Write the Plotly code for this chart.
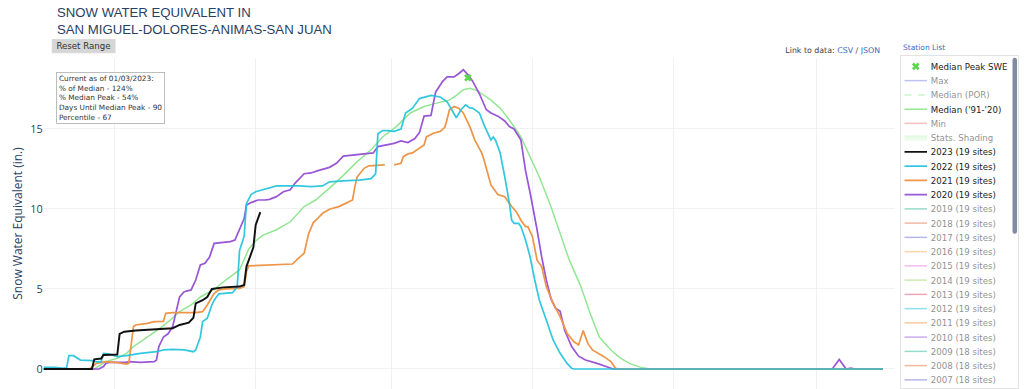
import pandas as pd
import plotly.graph_objects as go

# ---------------- data (day of water year from Oct 1, SWE in inches) ----------------
water_year_start = "2022-10-01"

days_2023 = [0, 21, 22, 25, 26, 32, 33, 35, 40, 45, 50, 56, 59, 63, 65, 66, 69, 71, 73, 78, 85, 87, 88, 89, 90, 91, 92, 93, 94]
swe_2023 = [0, 0, 0.6, 0.65, 0.88, 0.9, 2.2, 2.33, 2.4, 2.45, 2.5, 2.55, 2.75, 2.9, 3.2, 4.1, 4.3, 4.5, 5.0, 5.1, 5.15, 5.25, 6.4, 6.8, 7.1, 7.6, 9.0, 9.4, 9.8]

days_2022 = [0, 5, 8, 10, 11, 13, 16, 21, 23, 25, 26, 28, 32, 36, 42, 49, 52, 56, 61, 65, 66, 68, 69, 71, 73, 74, 76, 82, 84, 85, 86, 87, 88, 90, 92, 98, 101, 111, 116, 121, 124, 130, 137, 142, 144, 145, 147, 149, 152, 155, 157, 160, 163, 168, 172, 175, 177, 179, 181, 183, 185, 186, 189, 191, 194, 195, 196, 198, 200, 202, 203, 204, 206, 207, 209, 211, 213, 215, 218, 221, 224, 227, 229, 230, 364]
swe_2022 = [0.1, 0.1, 0.05, 0.05, 0.83, 0.83, 0.56, 0.52, 0.45, 0.45, 0.98, 0.95, 0.77, 0.83, 0.98, 1.08, 1.19, 1.23, 1.19, 1.08, 1.19, 2.0, 2.96, 3.17, 4.0, 4.3, 4.7, 4.77, 5.15, 7.4, 7.85, 8.3, 10.35, 10.9, 11.08, 11.3, 11.44, 11.44, 11.4, 11.44, 11.7, 11.75, 11.8, 11.9, 12.2, 14.7, 14.9, 14.9, 14.85, 15.0, 16.0, 16.3, 16.9, 17.1, 17.0, 16.7, 16.2, 15.7, 16.2, 16.5, 16.3, 16.3, 16.0, 15.25, 14.3, 14.5, 14.3, 13.5, 12.0, 10.35, 9.3, 9.1, 9.1, 8.9, 8.06, 7.0, 5.56, 4.3, 3.06, 1.8, 0.98, 0.35, 0.04, 0, 0]

days_2021 = [0, 20, 23, 27, 32, 36, 37, 39, 40, 45, 48, 52, 53, 56, 62, 66, 69, 71, 74, 76, 79, 85, 87, 88, 89, 96, 100, 108, 110, 113, 115, 117, 119, 121, 124, 128, 131, 134, 135, 136, 139, 141, 148, 149, 152, 155, 156, 158, 160, 162, 165, 166, 169, 172, 174, 175, 176, 178, 180, 182, 183, 185, 187, 190, 191, 194, 197, 200, 203, 205, 207, 209, 210, 212, 214, 216, 218, 221, 224, 227, 230, 231, 232, 234, 236, 238, 243, 246, 248, 250, 364]
swe_2021 = [0, 0, 0.35, 0.46, 0.4, 0.31, 0.35, 2.65, 2.75, 2.85, 2.96, 2.98, 3.48, 3.52, 3.52, 3.52, 3.58, 4.0, 4.73, 4.94, 5.0, 5.04, 5.15, 6.08, 6.44, 6.48, 6.5, 6.56, 6.85, 7.23, 8.48, 9.15, 9.42, 9.73, 9.98, 10.15, 10.35, 10.56, 11.4, 12.0, 12.54, 12.7, 12.75, None, 12.75, 12.85, 13.27, 13.44, 13.5, 13.7, 14.0, 14.5, 14.73, 14.85, 15.1, 15.6, 16.2, 16.4, 16.3, 16.0, 15.7, 15.1, 14.3, 13.5, 13.06, 11.5, 10.9, 10.77, 10.15, 9.83, 9.3, 8.9, 8.9, 8.27, 6.8, 6.4, 5.15, 4.1, 3.27, 2.23, 1.7, 1.6, 1.5, 2.4, 1.6, 1.19, 0.77, 0.46, 0.04, 0, 0]

days_2020 = [0, 24, 26, 27, 29, 36, 37, 42, 48, 49, 50, 52, 54, 56, 57, 59, 61, 64, 66, 68, 70, 72, 74, 77, 81, 83, 85, 87, 88, 90, 93, 96, 98, 101, 104, 107, 109, 113, 116, 119, 124, 127, 130, 136, 143, 145, 152, 155, 158, 161, 163, 165, 168, 170, 173, 175, 178, 180, 182, 184, 186, 189, 192, 194, 197, 200, 202, 204, 207, 209, 211, 214, 216, 218, 220, 222, 224, 226, 229, 232, 235, 240, 244, 247, 342, 345, 348, 350, 352, 364]
swe_2020 = [0, 0, 0.15, 0.35, 0.42, 0.42, 0.46, 0.42, 0.46, 0.56, 1.4, 2.0, 2.2, 2.65, 3.27, 4.5, 4.83, 4.94, 5.56, 6.5, 6.6, 7.0, 7.85, 7.9, 7.96, 8.06, 8.7, 9.4, 10.25, 10.4, 10.56, 10.56, 10.6, 10.77, 11.08, 11.2, 11.6, 12.2, 12.25, 12.4, 12.6, 12.85, 13.3, 13.4, 13.5, 13.9, 14.1, 14.25, 14.15, 14.4, 14.77, 15.8, 15.85, 17.3, 17.96, 18.25, 18.25, 18.45, 18.7, 18.4, 18.0, 17.2, 16.2, 16.0, 15.8, 15.5, 15.15, 15.0, 14.3, 12.4, 11.0, 8.7, 7.0, 5.56, 4.4, 3.8, 3.6, 2.4, 1.4, 0.8, 0.56, 0.35, 0.15, 0, 0, 0.6, 0, 0.05, 0, 0]

days_median = [0, 22, 27, 32, 36, 39, 42, 46, 51, 55, 59, 64, 68, 74, 79, 85, 89, 92, 95, 101, 107, 113, 118, 124, 130, 136, 142, 147, 153, 159, 165, 170, 176, 179, 182, 185, 188, 190, 194, 198, 202, 207, 211, 215, 220, 224, 228, 233, 237, 241, 246, 250, 254, 259, 263, 364]
swe_median = [0, 0, 0.46, 0.67, 0.98, 1.4, 1.7, 2.1, 2.6, 3.06, 3.58, 4.0, 4.5, 4.98, 5.56, 6.19, 7.5, 8.0, 8.35, 8.7, 9.2, 10.15, 10.56, 11.3, 12.1, 12.96, 13.7, 14.5, 15.15, 16.0, 16.4, 16.6, 16.8, 17.1, 17.45, 17.54, 17.4, 17.2, 16.8, 16.3, 15.56, 14.5, 13.27, 12.0, 10.15, 8.48, 6.8, 5.15, 3.48, 2.0, 1.19, 0.7, 0.35, 0.1, 0, 0]

median_peak_day = [184]
median_peak_swe = [18.2]

older_years = [2019, 2018, 2017, 2016, 2015, 2014, 2013, 2012, 2011, 2010, 2009, 2008, 2007,
               2006, 2005, 2004, 2003, 2002, 2001, 2000, 1999, 1998, 1997, 1996, 1995, 1994,
               1993, 1992, 1991, 1990, 1989, 1988, 1987, 1986]
older_sites = [19, 19, 19, 19, 19, 19, 19, 19, 19, 18, 18, 18, 18,
               18, 18, 18, 18, 17, 17, 17, 17, 17, 16, 16, 16, 16,
               15, 15, 15, 15, 14, 14, 14, 14]

info_lines = ["Current as of 01/03/2023:", "% of Median - 124%", "% Median Peak - 54%",
              "Days Until Median Peak - 90", "Percentile - 67"]

# ---------------- styles ----------------
year_palette = ["#1fc3dc", "#ef9549", "#9a57d6", "#2fb899", "#e8734a",
                "#6a6fd4", "#f5ae55", "#e97ad6", "#9ed463", "#e0506e"]
SANS = "Verdana, DejaVu Sans, sans-serif"
OPEN = "Open Sans, Arial, sans-serif"
ARIAL = "Arial, Liberation Sans, sans-serif"
NBSP = "\u00a0"

base = pd.Timestamp(water_year_start)


def to_dates(days):
    return [base + pd.Timedelta(days=d) for d in days]


fig = go.Figure()

# visible series (draw order)
fig.add_trace(go.Scatter(x=to_dates(days_median), y=swe_median, mode="lines",
                         name="Median ('91-'20)", legendrank=4,
                         line=dict(color="#93e693", width=2)))
fig.add_trace(go.Scatter(x=to_dates(days_2020), y=swe_2020, mode="lines",
                         name="2020 (19 sites)", legendrank=10,
                         line=dict(color=year_palette[2], width=2.3)))
fig.add_trace(go.Scatter(x=to_dates(days_2021), y=swe_2021, mode="lines",
                         name="2021 (19 sites)", legendrank=9, connectgaps=False,
                         line=dict(color=year_palette[1], width=2.3)))
fig.add_trace(go.Scatter(x=to_dates(days_2022), y=swe_2022, mode="lines",
                         name="2022 (19 sites)", legendrank=8, opacity=0.9,
                         line=dict(color=year_palette[0], width=2.3)))
fig.add_trace(go.Scatter(x=to_dates(days_2023), y=swe_2023, mode="lines",
                         name="2023 (19 sites)", legendrank=7,
                         line=dict(color="#111111", width=2.6)))
fig.add_trace(go.Scatter(x=to_dates(median_peak_day), y=median_peak_swe, mode="markers",
                         name="Median Peak SWE", legendrank=1,
                         marker=dict(symbol="x", color="#5cd64a", size=9)))

# hidden (legend-only) statistics
fig.add_trace(go.Scatter(x=[None], y=[None], mode="lines", name="Max", legendrank=2,
                         visible="legendonly", line=dict(color="#7f86e6", width=2)))
fig.add_trace(go.Scatter(x=[None], y=[None], mode="lines", name="Median (POR)", legendrank=3,
                         visible="legendonly", line=dict(color="#90ee90", width=2, dash="dash")))
fig.add_trace(go.Scatter(x=[None], y=[None], mode="lines", name="Min", legendrank=5,
                         visible="legendonly", line=dict(color="#f08080", width=2)))
fig.add_trace(go.Scatter(x=[None], y=[None], mode="lines", name="Stats. Shading", legendrank=6,
                         visible="legendonly", fill="toself",
                         fillcolor="rgba(144,238,144,0.35)", line=dict(color="rgba(144,238,144,0.35)", width=3)))

# hidden (legend-only) older years
for i, (yr, ns) in enumerate(zip(older_years, older_sites)):
    fig.add_trace(go.Scatter(x=[None], y=[None], mode="lines", name=f"{yr} ({ns} sites)",
                             legendrank=7 + (2023 - yr), visible="legendonly",
                             line=dict(color=year_palette[(2022 - yr) % 10], width=2)))

x_range = ["2022-10-01", "2023-10-05 02:00"]
y_range = [-1.266, 19.45]

fig.update_layout(
    width=1366, height=519,
    margin=dict(l=58, r=173, t=77, b=0),
    paper_bgcolor="white", plot_bgcolor="white",
    font=dict(family=SANS, size=12, color="#2a3f5f"),
    title=dict(text="SNOW WATER EQUIVALENT IN<br>SAN MIGUEL-DOLORES-ANIMAS-SAN JUAN",
               x=76 / 1366, xref="container", xanchor="left",
               y=1 - 22 / 519, yref="container", yanchor="top",
               font=dict(family=ARIAL, size=17.6, color="#2a3f5f")),
    xaxis=dict(type="date", range=x_range, showticklabels=False, showgrid=True,
               gridcolor="#e9ecf0", gridwidth=1, tick0="2022-11-01", dtick="M2",
               zeroline=False, showline=False, ticks=""),
    yaxis=dict(range=y_range, dtick=5, tick0=0, showgrid=True, gridcolor="#e9ecf0",
               zeroline=False, showline=False, ticks="",
               tickfont=dict(family=OPEN, size=14.5, color="#2a3f5f"),
               title=dict(text="Snow Water Equivalent (in.)", standoff=6,
                          font=dict(family=OPEN, size=16, color="#2a3f5f"))),
    legend=dict(x=1.0062, y=1.0084, xanchor="left", yanchor="top",
                bgcolor="white", bordercolor="#d9d9d9", borderwidth=1,
                font=dict(family=SANS, size=11.5, color="#222222"),
                traceorder="normal", maxheight=446),
    showlegend=True,
    annotations=[
        dict(text=NBSP + "Reset Range" + NBSP, xref="paper", yref="paper",
             x=0.00996, y=1.0566, xanchor="left", yanchor="top", showarrow=False,
             bgcolor="#d6d6d6", bordercolor="#d6d6d6", borderwidth=1, borderpad=1.5,
             font=dict(family=SANS, size=11.5, color="#333333")),
        dict(text="<br>".join(info_lines), xref="paper", yref="paper",
             x=0.0147, y=0.956, xanchor="left", yanchor="top", align="left",
             showarrow=False, bgcolor="white", bordercolor="#a8a8a8", borderwidth=1,
             borderpad=2.5, font=dict(family=SANS, size=9.8, color="#333333")),
        dict(text="Link to data: <span style='color:#3a6cc0'>CSV</span> / "
                  "<span style='color:#3a6cc0'>JSON</span>",
             xref="paper", yref="paper", x=0.9846, y=1.0233, xanchor="right",
             yanchor="middle", showarrow=False,
             font=dict(family=SANS, size=10.5, color="#444444")),
        dict(text="Station List", xref="paper", yref="paper", x=1.0079, y=1.0333,
             xanchor="left", yanchor="middle", showarrow=False,
             font=dict(family=SANS, size=10, color="#3a6cc0")),
    ],
)

fig.write_html(
    "out.html",
    config={"responsive": False, "displayModeBar": False},
    post_script="document.body.style.margin='0';document.documentElement.style.zoom='0.75';",
)
